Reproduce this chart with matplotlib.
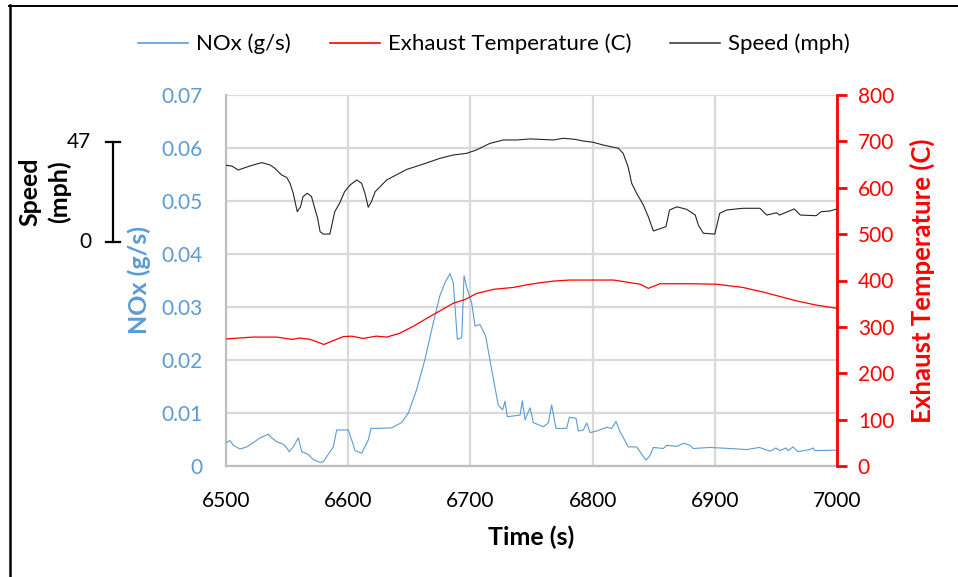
import matplotlib
matplotlib.use("Agg")
import matplotlib.pyplot as plt
import matplotlib.transforms as mtransforms
from matplotlib.lines import Line2D
import numpy as np

plt.rcParams['font.family'] = ['Lato', 'DejaVu Sans']

# ---- data ----
nox_t = [6500, 6503.3, 6506, 6511.5, 6517, 6522.3, 6527.8, 6534.6, 6537.4, 6541.5,
         6546.9, 6549.7, 6551.8, 6555, 6559.2, 6562, 6567.3, 6571.4, 6577, 6579.6,
         6587.8, 6590.6, 6600, 6602.9, 6605.6, 6611, 6616.4, 6618.7, 6624.6, 6635.6,
         6643.8, 6649.2, 6656, 6662.8, 6669.6, 6675, 6679.2, 6683.3, 6686, 6689.3,
         6692.9, 6694.8, 6697, 6701, 6703.8, 6707.8, 6712.5, 6717.4, 6722.8, 6726.4,
         6728.3, 6730.2, 6740.6, 6742.5, 6744.7, 6748.8, 6751.5, 6759.6, 6763.7, 6766.5,
         6770, 6778.8, 6781, 6786.4, 6788.3, 6792.4, 6795.2, 6797.9, 6803.4, 6811.5,
         6815.6, 6819.1, 6822.4, 6829.2, 6836, 6843.7, 6847, 6849.7, 6857.9, 6860.6,
         6868.8, 6874.8, 6879.7, 6882.4, 6896, 6912.4, 6926, 6936.4, 6945.2, 6950,
         6953.3, 6958.2, 6960, 6964, 6968, 6977.7, 6980.4, 6981.8, 7000]
nox = [0.0044, 0.0048, 0.0039, 0.0032, 0.0036, 0.0044, 0.0053, 0.0060, 0.0053, 0.0046,
       0.0041, 0.0034, 0.0027, 0.0036, 0.0053, 0.0027, 0.0022, 0.0012, 0.0007, 0.0008,
       0.0036, 0.0068, 0.0068, 0.0049, 0.0029, 0.0024, 0.0049, 0.0071, 0.0071, 0.0072,
       0.0082, 0.0100, 0.0144, 0.0201, 0.0270, 0.0321, 0.0346, 0.0363, 0.0346, 0.0239,
       0.0242, 0.0359, 0.0337, 0.0308, 0.0264, 0.0267, 0.0245, 0.0182, 0.0115, 0.0106,
       0.0122, 0.0093, 0.0096, 0.0123, 0.0087, 0.0110, 0.0082, 0.0074, 0.0081, 0.0115,
       0.0071, 0.0071, 0.0092, 0.0090, 0.0066, 0.0068, 0.0081, 0.0063, 0.0066, 0.0073,
       0.0071, 0.0084, 0.0065, 0.0036, 0.0036, 0.0011, 0.0020, 0.0035, 0.0033, 0.0039,
       0.0037, 0.0043, 0.0039, 0.0033, 0.0035, 0.0033, 0.0031, 0.0035, 0.0028, 0.0034,
       0.0029, 0.0034, 0.0029, 0.0036, 0.0027, 0.0031, 0.0034, 0.0029, 0.0030]

temp_t = [6500, 6522, 6541.5, 6554, 6560.5, 6569, 6580, 6586.5, 6596, 6603,
          6612, 6623, 6631.5, 6642, 6653, 6670, 6686, 6695.6, 6705, 6719,
          6735, 6749, 6759.6, 6769, 6781.5, 6817, 6839, 6845.6, 6855, 6879.7,
          6901.5, 6923, 6939.7, 6967, 6983, 7000]
temp = [274, 278, 278, 273, 276, 273, 262, 269, 279, 280,
        275, 280, 278, 286, 301, 327, 351, 359, 372, 381,
        385, 392, 396, 399, 401, 401, 392, 383, 393, 393,
        392, 385, 375, 356, 347, 340]

speed_t = [6500, 6504.7, 6510, 6519.6, 6529.2, 6536, 6540, 6545.6, 6549.7, 6552.4,
           6555, 6558.3, 6561, 6563, 6566.5, 6570, 6573, 6575, 6577, 6579.6,
           6585, 6589, 6593, 6597, 6601.5, 6607, 6611, 6613.7, 6616.4, 6619,
           6622, 6631.5, 6648, 6661.5, 6675, 6686, 6697, 6705, 6716, 6727,
           6738, 6749, 6768, 6776, 6785.6, 6792.4, 6800.6, 6808.7, 6821, 6825,
           6829, 6832, 6836, 6841.5, 6845.6, 6849.7, 6854, 6860, 6863, 6869,
           6877, 6884, 6886.5, 6890.6, 6900, 6904, 6909.7, 6923, 6937, 6942.5,
           6950.6, 6953, 6965, 6970, 6983, 6987, 6994, 7000]
speed = [36.1, 35.8, 33.9, 35.8, 37.4, 36.3, 34.7, 31.5, 30.4, 27.6,
         22.9, 14.2, 16.5, 21.3, 22.9, 21.3, 15.0, 11.1, 4.7, 3.6,
         3.6, 14.2, 18.2, 23.6, 26.8, 29.2, 27.6, 22.9, 16.3, 18.9,
         23.6, 29.2, 34.2, 36.7, 39.4, 41.0, 41.8, 43.4, 46.5, 48.1,
         48.1, 48.6, 48.1, 48.9, 48.4, 47.6, 47.0, 45.7, 44.2, 41.8,
         35.5, 27.6, 22.9, 17.4, 11.8, 5.1, 5.9, 7.1, 15.0, 16.5,
         15.3, 12.6, 7.9, 4.0, 3.6, 13.4, 15.0, 15.8, 15.8, 12.6,
         13.7, 12.6, 15.5, 12.6, 12.3, 14.2, 14.5, 15.5]

speed_bar = [0, 47]

blue = '#5B9BD5'
red = '#FF0000'
grid = '#D9D9D9'

W, H = 958, 577
fig = plt.figure(figsize=(W / 100, H / 100), dpi=100)

# plot area in pixels
L, R, T, B = 226, 837, 95, 466
ax = fig.add_axes([L / W, 1 - B / H, (R - L) / W, (B - T) / H])
ax2 = ax.twinx()
ax3 = ax.twinx()

ax.plot(nox_t, nox, color=blue, lw=0.8, zorder=3)
ax2.plot(temp_t, temp, color=red, lw=0.9, zorder=3)
ax3.plot(speed_t, speed, color='#262626', lw=0.8, zorder=3)

ax.set_xlim(6500, 7000)
ax.set_ylim(0, 0.07)
ax2.set_ylim(0, 800)

# speed axis: 0 and 47 sit at these pixel rows (scale bar at left)
y0_px, y47_px = 241.7, 142.3
f0 = (B - y0_px) / (B - T)
f47 = (B - y47_px) / (B - T)
k = (speed_bar[1] - speed_bar[0]) / (f47 - f0)
ax3.set_ylim(speed_bar[0] - f0 * k, speed_bar[1] + (1 - f47) * k)
ax3.axis('off')

ax.set_xticks(np.arange(6500, 7001, 100))
ax.set_yticks(np.arange(0, 0.0701, 0.01))
ax.set_yticklabels(['0'] + ['%.2f' % v for v in np.arange(0.01, 0.0701, 0.01)])
ax2.set_yticks(np.arange(0, 801, 100))

ax.grid(True, color=grid, lw=1.6)
ax.set_axisbelow(True)
for s in ['top', 'right']:
    ax.spines[s].set_visible(False)
ax.spines['left'].set_color('#BFBFBF')
ax.spines['bottom'].set_color('#BFBFBF')
ax.spines['left'].set_linewidth(1.6)
ax.spines['bottom'].set_linewidth(1.6)
ax2.spines['top'].set_visible(False)
ax2.spines['left'].set_visible(False)
ax2.spines['bottom'].set_visible(False)
ax2.spines['right'].set_color(red)
ax2.spines['right'].set_linewidth(2)

ax.tick_params(axis='y', length=0, pad=17, labelsize=15, labelcolor=blue)
ax.tick_params(axis='x', length=0, pad=18, labelsize=15)
ax2.tick_params(axis='y', length=7, width=2, color=red, pad=8, labelsize=15,
                labelcolor=red)

# axis titles placed by their centres
fig.text(531 / W, 1 - 537 / H, 'Time (s)', ha='center', va='center',
         fontsize=18, fontweight='bold')
fig.text(139 / W, 1 - 280 / H, 'NOx (g/s)', rotation=90, ha='center',
         va='center', fontsize=18, fontweight='bold', color=blue)
fig.text(922 / W, 1 - 281 / H, 'Exhaust Temperature (C)', rotation=90,
         ha='center', va='center', fontsize=18.5, fontweight='bold', color=red)

# speed scale bar
tr = mtransforms.blended_transform_factory(fig.transFigure, ax3.transData)
bx = 113 / W
cap = 7 / W
ax3.plot([bx, bx], speed_bar, color='black', lw=1.6, transform=tr, clip_on=False)
for v in speed_bar:
    ax3.plot([bx - cap, bx + cap], [v, v], color='black', lw=1.6, transform=tr,
             clip_on=False)
    ax3.text(91 / W, v, str(v), transform=tr, ha='right', va='center',
             fontsize=15)
fig.text(45 / W, 1 - 192 / H, 'Speed\n(mph)', rotation=90, ha='center',
         va='center', fontsize=18, fontweight='bold', linespacing=1.3)

# legend
handles = [Line2D([], [], color=blue, lw=1.2),
           Line2D([], [], color=red, lw=1.2),
           Line2D([], [], color='#404040', lw=1.2)]
fig.legend(handles, ['NOx (g/s)', 'Exhaust Temperature (C)', 'Speed (mph)'],
           loc='center', bbox_to_anchor=(494 / W, 1 - 44 / H), ncol=3,
           frameon=False, fontsize=16, handlelength=2.25, handletextpad=0.35,
           columnspacing=1.75)

# outer frame (top and left edges)
fig.add_artist(Line2D([9 / W, 1], [1 - 5.5 / H, 1 - 5.5 / H], color='black',
                      lw=1.4, transform=fig.transFigure))
fig.add_artist(Line2D([10 / W, 10 / W], [0, 1 - 5 / H], color='black', lw=1.8,
                      transform=fig.transFigure))

fig.savefig('out.png', dpi=100)
